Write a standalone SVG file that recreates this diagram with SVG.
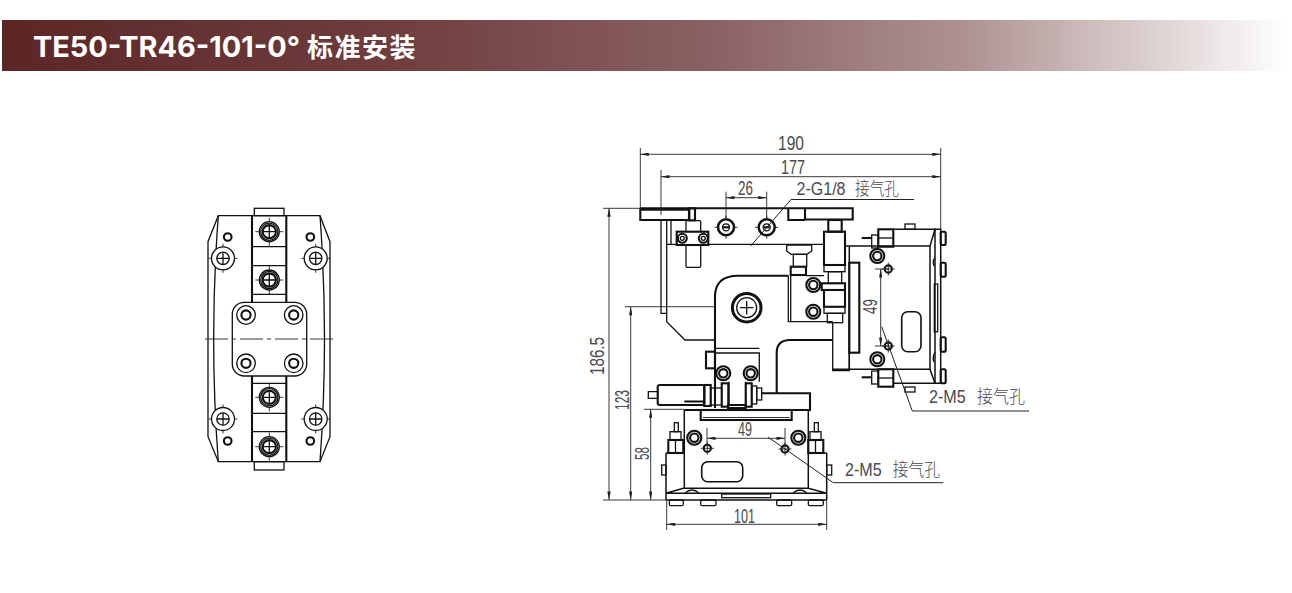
<svg xmlns="http://www.w3.org/2000/svg" width="1292" height="593" viewBox="0 0 1292 593">
<style>
.o{fill:none;stroke:#111;stroke-width:1.3}
.t{fill:none;stroke:#111;stroke-width:2.1}
.w{fill:#fff;stroke:#111;stroke-width:1.3}
.d{fill:none;stroke:#222;stroke-width:.9}
.a{fill:none;stroke:#222;stroke-width:.9;marker-start:url(#ar);marker-end:url(#ar)}
.x{font-family:"Liberation Sans","Noto Sans CJK SC",sans-serif;font-size:20px;fill:#4a4a50}
.c{font-family:"Liberation Sans","Noto Sans CJK SC",sans-serif;font-size:18px;fill:#4a4a50}
.j{font-family:"Noto Sans CJK SC",sans-serif;font-size:18px;font-weight:300;fill:#4a4a50}
</style>
<defs>
<linearGradient id="hd" x1="0" x2="1" y1="0" y2="0">
<stop offset="0" stop-color="#5c2626"/><stop offset=".3" stop-color="#6f3d3e"/><stop offset=".55" stop-color="#8a6162"/><stop offset=".75" stop-color="#ae9292"/><stop offset=".9" stop-color="#dfd3d3"/><stop offset="1" stop-color="#fff"/>
</linearGradient>
<marker id="ar" viewBox="0 0 10 4" refX="10" refY="2" markerWidth="10" markerHeight="3.4" markerUnits="userSpaceOnUse" orient="auto-start-reverse"><path d="M0 0L10 2L0 4Z" fill="#222"/></marker>
<g id="ring"><circle r="7" class="t" style="fill:#fff"/><circle r="4.2" class="t"/></g>
<g id="screw"><circle r="10" class="o"/><circle r="8.6" class="o"/><circle r="6.600" class="t"/><path d="M-6.600 0H6.600M0-6.600V6.600" class="o"/><path d="M-14 0H-10.500M10.500 0H14M0-14V-10.500M0 10.500V14" class="d"/></g>
<g id="big"><circle r="11.500" class="o" style="fill:#fff"/><circle r="6.200" class="o"/><path d="M-6.200 0H6.200M0-6.200V6.200" class="o"/><path d="M-14.500 0H-11.500M11.500 0H14.500M0-14.500V-11.500M0 11.500V14.500" class="d"/></g>
<g id="bolt"><circle r="9.300" class="o" style="fill:#fff"/><circle r="4.600" class="t"/></g>
<g id="small"><circle r="3.600" class="t"/><path d="M-6.500 0H6.500M0-6.500V6.500" class="d"/></g>
<g id="port"><circle r="8" class="t" style="fill:#fff;stroke-width:2.500"/><circle r="3.500" class="o"/><path d="M-3 0H3" class="t"/><path d="M-11.500 0H-8M8 0H11.500M0-11.500V-8M0 8V11.500" class="d"/></g>
</defs>

<g id="title">
<rect x="2" y="20" width="1286" height="51" fill="url(#hd)"/>
<text y="57" font-family="Inter,'Noto Sans CJK SC',sans-serif" font-weight="700" fill="#fff"><tspan x="33" font-size="29" textLength="267" lengthAdjust="spacingAndGlyphs">TE50-TR46-101-0°</tspan><tspan x="307" font-size="26" letter-spacing="1.500">标准安装</tspan></text>
</g>

<g id="front-view">
<path d="M218.300 215.700H320L330 241.700V436.700L320 461.700H218.300L208 436.700V241.700Z" class="o"/>
<path d="M218.300 215.700Q209 339 218.300 461.700M320 215.700Q329 339 320 461.700" class="o"/>
<path d="M252 215.700V302M286.300 215.700V302M252 376V461.700M286.300 376V461.700" class="t"/>
<rect x="254.300" y="208.300" width="29.700" height="7.400" class="o"/>
<rect x="254.300" y="461.700" width="29.700" height="8.300" class="o"/>
<path d="M252 246.700H286.300M252 265.700H286.300M252 294.300H286.300M252 383.300H286.300M252 413.300H286.300M252 431.700H286.300" class="o"/>
<rect x="232.300" y="302.300" width="74.400" height="73.700" rx="12" class="w"/>
<path d="M205 339H228M232 339H236M240 339H263M267 339H271M275 339H298M302 339H306M310 339H333" class="d"/>
<use href="#bolt" x="246" y="315"/><use href="#bolt" x="293.700" y="315"/><use href="#bolt" x="246" y="363.300"/><use href="#bolt" x="293.700" y="363.300"/>
<use href="#screw" x="269.300" y="231.700"/><use href="#screw" x="269.300" y="280"/><use href="#screw" x="269.300" y="397.300"/><use href="#screw" x="269.300" y="446.700"/>
<use href="#big" x="223" y="258.300"/><use href="#big" x="315.700" y="258.300"/><use href="#big" x="223" y="419"/><use href="#big" x="315.700" y="419"/>
<circle cx="227.700" cy="237" r="3.800" class="t"/><circle cx="310.300" cy="237" r="3.800" class="t"/><circle cx="227.700" cy="441" r="3.800" class="t"/><circle cx="310.300" cy="441" r="3.800" class="t"/>
</g>

<g id="side-view">
<path d="M640.300 208.300H852.700V219.500H805V208.300M640.300 208.300V220H689V208.300M788.300 208.300V220H805" class="t"/>
<path d="M640.300 209.800H689" class="t"/>
<path d="M661 220V313.300H666.700V220M666.700 244.300H824M671 220V244.300M689 220H661" class="o"/>
<path d="M666.700 313.300V321.700L685 340H715" class="o"/>
<rect x="686" y="220.700" width="14.700" height="46.600" rx="1" class="w"/>
<rect x="689.300" y="208.300" width="5.700" height="12" class="t"/>
<rect x="676.700" y="231.700" width="31.600" height="13.300" class="t" style="fill:#fff"/>
<circle cx="682.300" cy="238.300" r="4.500" class="t"/><circle cx="682.300" cy="238.300" r="2" class="o"/>
<circle cx="703.300" cy="238.300" r="4.500" class="t"/><circle cx="703.300" cy="238.300" r="2" class="o"/>
<use href="#port" x="726" y="227.300"/><use href="#port" x="766.700" y="227.300"/>
<path d="M786.700 245H811.700V251L807 254.300H791L786.700 251Z" class="w"/>
<rect x="793.300" y="254.300" width="13.400" height="12.400" class="o"/>
<rect x="790.700" y="266.700" width="15.300" height="8.300" class="t"/>
<path d="M715 408V296.700Q715 275.700 738.300 275.700H788.300" class="t"/>
<path d="M776.700 393V353Q776.700 340 790 340H832.700" class="t"/>
<path d="M788.300 275.700V321.700H832.700M790.700 275.700V321.700M806 275.700H824" class="o"/>
<circle cx="746.700" cy="307.700" r="14.300" class="t" style="stroke-width:3"/><circle cx="746.700" cy="307.700" r="10" class="o"/><path d="M740 307.700H753.400M746.700 301V314.400" class="o"/>
<use href="#ring" x="813.300" y="285"/><use href="#ring" x="813.300" y="311.700"/>
<rect x="828.300" y="220" width="13.400" height="11.700" class="t"/>
<rect x="824" y="231.700" width="21" height="33.300" class="t"/>
<rect x="824" y="265" width="21" height="6.700" class="o"/>
<rect x="828.300" y="271.700" width="13.400" height="11.600" class="o"/>
<rect x="821.700" y="283.300" width="23.300" height="6.700" class="t"/>
<path d="M845 290V306.700H824V290" class="t"/>
<rect x="824" y="306.700" width="21" height="6.600" class="o"/>
<rect x="827.300" y="313.300" width="15.400" height="9.400" class="o"/>
<path d="M832.700 322.700V370.700H849.300V322.700" class="o"/>
<path d="M832.700 369.300H930M845 246H930M849.300 246V369.300" class="t" style="stroke-width:1.500"/>
<rect x="849.300" y="262.700" width="10" height="90" class="t"/>
<path d="M930 246V369.300L935 383.300H893M930 246L935 229.300H893" class="t" style="stroke-width:1.500"/>
<path d="M935 229.300H940.700V383.300H935Z" class="t" style="stroke-width:1.500"/>
<path d="M935 258Q932 260 934 266M935 352Q932 358 934 362" class="o"/>
<rect x="940.700" y="231.700" width="5" height="13.300" rx="1.500" class="t"/><rect x="940.700" y="262.700" width="5" height="14" rx="1.500" class="t"/><rect x="940.700" y="337.300" width="5" height="14.400" rx="1.500" class="t"/><rect x="940.700" y="369.300" width="5" height="14" rx="1.500" class="t"/>
<rect x="934.300" y="284" width="3.400" height="47.700" class="o"/>
<rect x="901.700" y="311.700" width="19.300" height="40" rx="6" class="o" style="stroke-width:1.600"/>
<use href="#ring" x="877.300" y="256"/><use href="#ring" x="877.300" y="359.300"/>
<use href="#small" x="888.300" y="269"/><use href="#small" x="888.300" y="346"/>
<rect x="878.300" y="229.300" width="15" height="17.400" class="t"/><path d="M878.300 238H893" class="o"/><rect x="871.700" y="235" width="6.600" height="13" class="o"/><path d="M861.700 238H871.700" class="t"/>
<rect x="878.300" y="369.300" width="15" height="17.400" class="t"/><path d="M878.300 378H893" class="o"/><rect x="871.700" y="371" width="6.600" height="13" class="o"/><path d="M861.700 377.300H871.700" class="t"/>
<rect x="905" y="224" width="10" height="5.300" class="o"/><rect x="905" y="387" width="10" height="5" class="o"/>
<path d="M715 353H759.300V381.700M715 348.300H759.300" class="o"/>
<rect x="706" y="351.700" width="9" height="16.600" class="t"/>
<use href="#ring" x="723.300" y="373.300"/><use href="#ring" x="750.700" y="373.300"/>
<path d="M729 381.700V405M745.700 381.700V405" class="o"/>
<path d="M728 405H745.700V408H728Z" class="t"/>
<rect x="657.700" y="385" width="46.600" height="20" rx="2" class="t"/>
<path d="M648.300 391.700H657.700V398.300H648.300Z" class="o"/>
<rect x="704.300" y="385" width="6.400" height="21" class="t"/><rect x="710.700" y="388" width="11" height="17" class="o"/><rect x="721.700" y="383.300" width="6.600" height="23.400" class="t"/>
<rect x="745.700" y="383.300" width="6" height="23.400" class="t"/><rect x="751.700" y="386" width="5" height="18" class="o"/><rect x="756.700" y="388" width="5" height="12" class="o"/>
<path d="M761.700 393.300H810V410H684.300M684.300 401.500H704.300" class="t"/>
<rect x="700.700" y="410" width="91" height="10" class="t"/><path d="M703 417.500H789.500" class="d"/>
<path d="M684.300 410V488.300M808.300 410V488.300" class="t" style="stroke-width:1.500"/>
<path d="M666 453H683.300M808.300 453H826.700M666 453V493.300M826.700 453V493.300M666 493.300L683.300 488.300H808.300L826.700 493.300M666 493.300H826.700M666 500H826.700M666 493.300V500M826.700 493.300V500" class="t" style="stroke-width:1.500"/>
<path d="M685 493Q692 487 699 493M793 493Q800 487 807 493" class="o"/>
<rect x="669.300" y="500" width="14" height="5.700" rx="1.500" class="o"/><rect x="700.700" y="500" width="15.300" height="5.700" rx="1.500" class="o"/><rect x="776.700" y="500" width="15" height="5.700" rx="1.500" class="o"/><rect x="808.300" y="500" width="15" height="5.700" rx="1.500" class="o"/>
<rect x="721.700" y="494" width="49" height="3.700" class="o"/>
<rect x="701.700" y="461.700" width="41" height="20" rx="6" class="o" style="stroke-width:1.600"/>
<use href="#ring" x="694.300" y="437.700"/><use href="#ring" x="798.300" y="437.700"/>
<use href="#small" x="707.300" y="448.300"/><use href="#small" x="785" y="449"/>
<rect x="668.300" y="440" width="15" height="13" class="t"/><path d="M675.500 440V453" class="o"/><rect x="670" y="431.700" width="11" height="8.300" class="o"/><rect x="674.300" y="422.700" width="4" height="9" class="o"/>
<rect x="808.300" y="440" width="15" height="13" class="t"/><path d="M815.500 440V453" class="o"/><rect x="810" y="431.700" width="11" height="8.300" class="o"/><rect x="814.300" y="422.700" width="4" height="9" class="o"/>
<rect x="661.700" y="465" width="4.300" height="10" class="o"/><rect x="826.700" y="465" width="5" height="10" class="o"/>
</g>

<g id="dimensions">
<path d="M640.300 148V208M940.700 148V230M661 170V215M726 191.700V219M766.700 191.700V219M603 208.300H640M603 500H666M625 306.700H715M644 409.300H684M666.700 500V530M826.700 500V530M707 428V445M785 428V445M875 269H888M875 346H888" class="d"/>
<path d="M640.300 154.300H940.700" class="a"/>
<path d="M661 176.700H940.700" class="a"/>
<path d="M726 197.700H766.700" class="a"/>
<path d="M609 208.300V500" class="a"/>
<path d="M630.700 306.700V500" class="a"/>
<path d="M650.700 409.300V500" class="a"/>
<path d="M666.700 524.300H826.700" class="a"/>
<path d="M707 438.300H785" class="a"/>
<path d="M880.700 269V346" class="a"/>
<path d="M750.700 246L791 199.500H914" class="d" style="stroke-width:1"/>
<path d="M881.700 326.700L912.300 411H1029" class="d" style="stroke-width:1"/>
<path d="M768.300 437.300L833.300 482.700H943.300" class="d" style="stroke-width:1"/>
<text class="x" x="778" y="150" textLength="26" lengthAdjust="spacingAndGlyphs">190</text>
<text class="x" x="781" y="173.500" textLength="24" lengthAdjust="spacingAndGlyphs">177</text>
<text class="x" x="738" y="195" textLength="15" lengthAdjust="spacingAndGlyphs">26</text>
<text y="195"><tspan class="c" x="796.500" textLength="49" lengthAdjust="spacingAndGlyphs">2-G1/8</tspan><tspan class="j" x="855" textLength="44" lengthAdjust="spacingAndGlyphs">接气孔</tspan></text>
<text y="403"><tspan class="c" x="929" textLength="36.700" lengthAdjust="spacingAndGlyphs">2-M5</tspan><tspan class="j" x="977" textLength="48" lengthAdjust="spacingAndGlyphs">接气孔</tspan></text>
<text y="475.500"><tspan class="c" x="845" textLength="36.700" lengthAdjust="spacingAndGlyphs">2-M5</tspan><tspan class="j" x="892.700" textLength="47.300" lengthAdjust="spacingAndGlyphs">接气孔</tspan></text>
<text class="x" x="738" y="436" textLength="14" lengthAdjust="spacingAndGlyphs">49</text>
<text class="x" x="734" y="523" textLength="21" lengthAdjust="spacingAndGlyphs">101</text>
<text class="x" transform="translate(877 314) rotate(-90)" textLength="15" lengthAdjust="spacingAndGlyphs">49</text>
<text class="x" transform="translate(604 375) rotate(-90)" textLength="38" lengthAdjust="spacingAndGlyphs">186.5</text>
<text class="x" transform="translate(628.500 410) rotate(-90)" textLength="20" lengthAdjust="spacingAndGlyphs">123</text>
<text class="x" transform="translate(648.500 460) rotate(-90)" textLength="13" lengthAdjust="spacingAndGlyphs">58</text>
</g>
</svg>
